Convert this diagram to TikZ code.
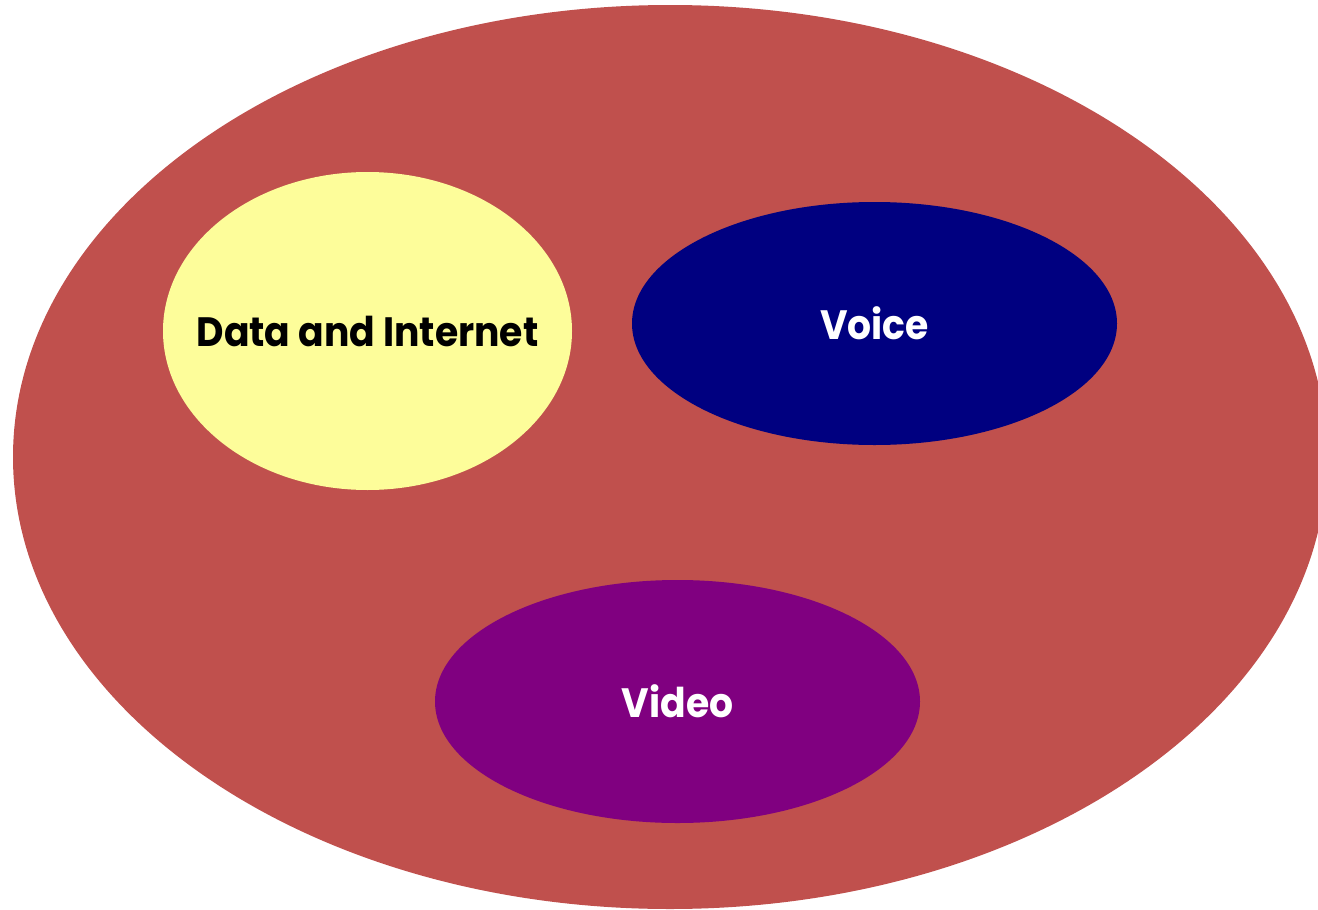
\documentclass[tikz,border=0pt]{standalone}
\usepackage{fontspec}
\usetikzlibrary{shapes.geometric}
\newfontfamily\labelfont[FakeStretch=0.92]{Poppins}
\definecolor{outerred}{HTML}{C0504D}
\definecolor{datayellow}{HTML}{FDFD9A}
\definecolor{voiceblue}{HTML}{000080}
\definecolor{videopurple}{HTML}{800080}
\tikzset{blob/.style={ellipse, inner sep=0pt},
  caption/.style={font=\labelfont\bfseries\fontsize{41}{45}\selectfont}}

\begin{document}
\begin{tikzpicture}[x=1pt, y=-1pt]
    \useasboundingbox (0,0) rectangle (1318,910);
    \clip (0,0) rectangle (1318,910);
    \node[blob, fill=outerred, minimum width=1314pt, minimum height=904pt] (services) at (670,457) {};
    \node[blob, fill=datayellow, minimum width=409pt, minimum height=318pt,
      label={[caption, text=black]center:Data and Internet}] (data) at (367.5,331) {};
    \node[blob, fill=voiceblue, minimum width=485pt, minimum height=243pt,
      label={[caption, text=white]center:Voice}] (voice) at (874.5,323.5) {};
    \node[blob, fill=videopurple, minimum width=485pt, minimum height=243pt,
      label={[caption, text=white]center:Video}] (video) at (677.5,701.5) {};
  \end{tikzpicture}
\end{document}
